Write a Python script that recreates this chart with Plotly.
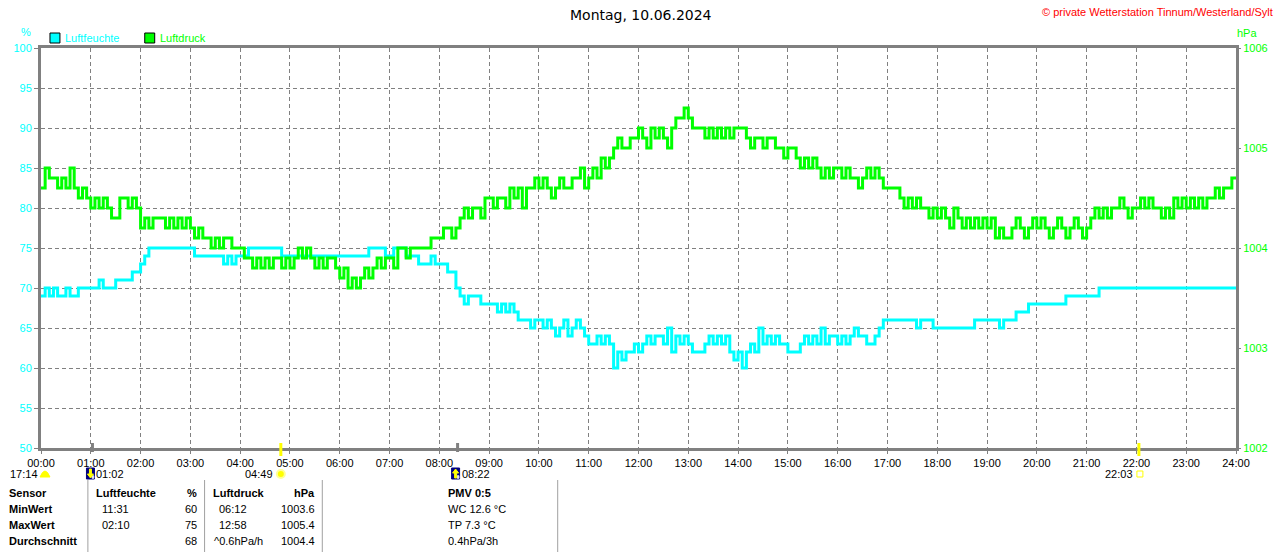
import plotly.graph_objs as go

# Messwerte alle 5 Minuten, eine Zeile = eine Stunde (00:00 ... 23:55, dazu 24:00)
luftfeuchte = [
    69, 70, 69, 70, 69, 69, 70, 69, 69, 70, 70, 70,
    70, 70, 71, 70, 70, 70, 71, 71, 71, 71, 72, 72,
    73, 74, 75, 75, 75, 75, 75, 75, 75, 75, 75, 75,
    75, 74, 74, 74, 74, 74, 74, 74, 73, 74, 73, 74,
    74, 74, 75, 75, 75, 75, 75, 75, 75, 75, 74, 74,
    74, 74, 74, 74, 74, 74, 74, 74, 74, 74, 74, 74,
    74, 74, 74, 74, 74, 74, 74, 75, 75, 75, 75, 74,
    74, 75, 75, 75, 74, 74, 74, 73, 73, 73, 74, 73,
    73, 73, 72, 72, 70, 69, 68, 69, 69, 69, 68, 68,
    68, 68, 67, 68, 67, 68, 67, 66, 66, 66, 65, 66,
    66, 65, 66, 65, 64, 65, 66, 64, 65, 66, 65, 64,
    63, 63, 64, 63, 64, 63, 60, 62, 61, 62, 62, 63,
    62, 63, 64, 63, 64, 64, 63, 65, 62, 64, 63, 64,
    63, 62, 62, 62, 63, 64, 63, 64, 63, 64, 62, 61,
    62, 60, 62, 63, 62, 65, 63, 64, 63, 64, 63, 63,
    62, 62, 62, 63, 64, 63, 64, 63, 65, 63, 64, 64,
    63, 64, 63, 64, 65, 64, 64, 63, 63, 64, 65, 66,
    66, 66, 66, 66, 66, 66, 66, 65, 66, 66, 66, 65,
    65, 65, 65, 65, 65, 65, 65, 65, 65, 66, 66, 66,
    66, 66, 66, 65, 66, 66, 66, 67, 67, 67, 68, 68,
    68, 68, 68, 68, 68, 68, 68, 69, 69, 69, 69, 69,
    69, 69, 69, 70, 70, 70, 70, 70, 70, 70, 70, 70,
    70, 70, 70, 70, 70, 70, 70, 70, 70, 70, 70, 70,
    70, 70, 70, 70, 70, 70, 70, 70, 70, 70, 70, 70,
    70,
]

luftdruck = [
    1004.6, 1004.8, 1004.7, 1004.7, 1004.6, 1004.7, 1004.6, 1004.8, 1004.6, 1004.5, 1004.6, 1004.5,
    1004.4, 1004.5, 1004.4, 1004.5, 1004.4, 1004.3, 1004.3, 1004.5, 1004.5, 1004.4, 1004.5, 1004.4,
    1004.2, 1004.3, 1004.2, 1004.3, 1004.3, 1004.3, 1004.2, 1004.3, 1004.2, 1004.3, 1004.2, 1004.3,
    1004.2, 1004.1, 1004.2, 1004.1, 1004.1, 1004.0, 1004.1, 1004.0, 1004.1, 1004.1, 1004.0, 1004.0,
    1004.0, 1003.9, 1003.9, 1003.8, 1003.9, 1003.8, 1003.9, 1003.8, 1003.9, 1003.9, 1003.8, 1003.9,
    1003.8, 1003.9, 1004.0, 1003.9, 1004.0, 1003.9, 1003.8, 1003.9, 1003.8, 1003.9, 1003.9, 1003.8,
    1003.7, 1003.8, 1003.6, 1003.7, 1003.6, 1003.7, 1003.8, 1003.7, 1003.8, 1003.9, 1003.8, 1003.9,
    1003.9, 1003.8, 1004.0, 1004.0, 1003.9, 1004.0, 1004.0, 1004.0, 1004.0, 1004.0, 1004.1, 1004.1,
    1004.1, 1004.2, 1004.2, 1004.1, 1004.2, 1004.3, 1004.4, 1004.3, 1004.4, 1004.4, 1004.3, 1004.5,
    1004.5, 1004.4, 1004.5, 1004.5, 1004.4, 1004.6, 1004.5, 1004.6, 1004.4, 1004.6, 1004.6, 1004.7,
    1004.6, 1004.7, 1004.6, 1004.5, 1004.6, 1004.7, 1004.6, 1004.6, 1004.7, 1004.7, 1004.8, 1004.6,
    1004.7, 1004.8, 1004.7, 1004.9, 1004.8, 1004.9, 1005.0, 1005.1, 1005.0, 1005.0, 1005.1, 1005.1,
    1005.2, 1005.1, 1005.0, 1005.2, 1005.1, 1005.2, 1005.1, 1005.0, 1005.2, 1005.3, 1005.3, 1005.4,
    1005.3, 1005.2, 1005.2, 1005.2, 1005.1, 1005.2, 1005.1, 1005.2, 1005.1, 1005.2, 1005.1, 1005.2,
    1005.2, 1005.2, 1005.1, 1005.0, 1005.1, 1005.1, 1005.0, 1005.1, 1005.1, 1005.0, 1005.0, 1004.9,
    1005.0, 1005.0, 1004.9, 1004.8, 1004.9, 1004.8, 1004.9, 1004.8, 1004.7, 1004.8, 1004.7, 1004.8,
    1004.8, 1004.7, 1004.8, 1004.7, 1004.7, 1004.6, 1004.7, 1004.8, 1004.7, 1004.8, 1004.7, 1004.6,
    1004.6, 1004.6, 1004.6, 1004.5, 1004.4, 1004.5, 1004.4, 1004.5, 1004.4, 1004.4, 1004.3, 1004.4,
    1004.3, 1004.4, 1004.3, 1004.2, 1004.4, 1004.3, 1004.2, 1004.3, 1004.2, 1004.3, 1004.2, 1004.3,
    1004.2, 1004.3, 1004.1, 1004.2, 1004.1, 1004.1, 1004.2, 1004.3, 1004.2, 1004.1, 1004.2, 1004.3,
    1004.2, 1004.3, 1004.2, 1004.1, 1004.2, 1004.3, 1004.2, 1004.1, 1004.2, 1004.3, 1004.2, 1004.1,
    1004.2, 1004.3, 1004.4, 1004.3, 1004.4, 1004.3, 1004.4, 1004.4, 1004.5, 1004.4, 1004.3, 1004.4,
    1004.4, 1004.5, 1004.4, 1004.5, 1004.4, 1004.4, 1004.3, 1004.4, 1004.3, 1004.5, 1004.4, 1004.5,
    1004.4, 1004.5, 1004.4, 1004.5, 1004.4, 1004.5, 1004.5, 1004.6, 1004.5, 1004.6, 1004.6, 1004.7,
    1004.7,
]

stunden_text = [
    "00:00", "01:00", "02:00", "03:00", "04:00", "05:00", "06:00", "07:00", "08:00",
    "09:00", "10:00", "11:00", "12:00", "13:00", "14:00", "15:00", "16:00", "17:00",
    "18:00", "19:00", "20:00", "21:00", "22:00", "23:00", "24:00",
]
feuchte_ticks = [50, 55, 60, 65, 70, 75, 80, 85, 90, 95, 100]
druck_ticks = [1002, 1003, 1004, 1005, 1006]

# Mond/Sonne auf- und untergang
ereignis_text = ["01:02", "04:49", "08:22", "22:03"]
ereignis_stunde = [1 + 2 / 60, 4 + 49 / 60, 8 + 22 / 60, 22 + 3 / 60]
ereignis_art = ["mond_ab", "sonne_auf", "mond_auf", "sonne_ab"]

# Tabelle unten
zeilen = ["MinWert", "MaxWert", "Durchschnitt"]
feuchte_zeit = ["11:31", "02:10", ""]
feuchte_wert = ["60", "75", "68"]
druck_zeit = ["06:12", "12:58", "^0.6hPa/h"]
druck_wert = ["1003.6", "1005.4", "1004.4"]
pmv_text = ["WC 12.6 °C", "TP 7.3 °C", "0.4hPa/3h"]

FONT = "Liberation Sans"
GRAU = "#808080"
CYAN = "#00ffff"
GRUEN = "#00ff00"
GELB = "#ffff00"
L, R, T, B = 41, 1239, 48, 448

def px_x(p):
    return (p - L) / (R - L)

def px_y(p):
    return (B - p) / (B - T)

def stunde_px(h):
    return L + h * (R - L) / 24

zeit = [m / 60 for m in range(0, 24 * 60 + 1, 5)]

fig = go.Figure()
fig.add_trace(
    go.Scatter(
        x = zeit,
        y = luftfeuchte,
        name = "Luftfeuchte",
        mode = "lines",
        line = dict(color = CYAN, width = 3, shape = "hv")
    )
)
fig.add_trace(
    go.Scatter(
        x = zeit,
        y = luftdruck,
        name = "Luftdruck",
        yaxis = "y2",
        mode = "lines",
        line = dict(color = GRUEN, width = 3, shape = "hv")
    )
)

notizen = list()
formen = list()

def text(t, x, y, anchor = "left", color = "black", size = 11, bold = False, family = FONT):
    if bold:
        t = "<b>" + t + "</b>"
    notizen.append(
        dict(
            text = t, x = px_x(x), y = px_y(y),
            xref = "paper", yref = "paper",
            xanchor = anchor, yanchor = "middle",
            showarrow = False, borderpad = 0,
            font = dict(family = family, size = size, color = color)
        )
    )

def rechteck(x0, y0, x1, y1, fill, line = "black", width = 1):
    formen.append(
        dict(
            type = "rect", xref = "paper", yref = "paper",
            x0 = px_x(x0), x1 = px_x(x1), y0 = px_y(y0), y1 = px_y(y1),
            fillcolor = fill, line = dict(color = line, width = width)
        )
    )

def pfad(punkte, fill):
    teile = ["{} {:.5f} {:.5f}".format("M" if i == 0 else "L", px_x(x), px_y(y)) for i, (x, y) in enumerate(punkte)]
    formen.append(
        dict(
            type = "path", xref = "paper", yref = "paper",
            path = " ".join(teile) + " Z",
            fillcolor = fill, line = dict(color = fill, width = 1)
        )
    )

text("Montag, 10.06.2024", 643, 15, anchor = "center", size = 14, family = "DejaVu Sans")
text("© private Wetterstation Tinnum/Westerland/Sylt", 1277, 12, anchor = "right", color = "#ff0000")
text("%", 26, 32, anchor = "center", color = CYAN)
text("hPa", 1250, 33, anchor = "center", color = GRUEN)

rechteck(50, 33, 60, 43, CYAN)
text("Luftfeuchte", 64, 38, color = CYAN)
rechteck(145, 33, 155, 43, GRUEN)
text("Luftdruck", 159, 38, color = GRUEN)

# Ereignisse auf der Zeitachse
text("17:14", 39, 474, anchor = "right")
formen.append(
    dict(
        type = "path", xref = "paper", yref = "paper",
        path = "M {} {} Q {} {} {} {} Z".format(
            px_x(40), px_y(477), px_x(45), px_y(465), px_x(50), px_y(477)
        ),
        fillcolor = GELB, line = dict(color = GELB, width = 1)
    )
)
for stunde, beschriftung, art in zip(ereignis_stunde, ereignis_text, ereignis_art):
    xp = stunde_px(stunde)
    farbe = GELB if art.startswith("sonne") else GRAU
    formen.append(
        dict(
            type = "line", xref = "x", yref = "paper",
            x0 = stunde, x1 = stunde, y0 = px_y(443), y1 = px_y(456 if farbe == GELB else 452),
            line = dict(color = farbe, width = 3)
        )
    )
    if art.startswith("mond"):
        m = xp - 2
        rechteck(m - 4, 468, m + 4, 479, "#000080", line = "#000080")
        formen.append(
            dict(
                type = "circle", xref = "paper", yref = "paper",
                x0 = px_x(m + 1), x1 = px_x(m + 4), y0 = px_y(475), y1 = px_y(479),
                fillcolor = "#e0e0f0", line = dict(width = 0)
            )
        )
        if art == "mond_auf":
            pfad([(m - 3, 473), (m, 469), (m + 3, 473), (m + 1, 473), (m + 1, 478), (m - 1, 478), (m - 1, 473)], GELB)
        else:
            pfad([(m - 3, 474), (m, 478), (m + 3, 474), (m + 1, 474), (m + 1, 469), (m - 1, 469), (m - 1, 474)], GELB)
        text(beschriftung, xp + 3, 474)
    elif art == "sonne_auf":
        formen.append(
            dict(
                type = "circle", xref = "paper", yref = "paper",
                x0 = px_x(xp - 4), x1 = px_x(xp + 4), y0 = px_y(470), y1 = px_y(478),
                fillcolor = GELB, line = dict(color = "#ffff99", width = 2)
            )
        )
        text(beschriftung, xp - 7, 474, anchor = "right")
    else:
        rechteck(xp - 2, 471, xp + 4, 477, "white", line = GELB)
        text(beschriftung, xp - 5, 474, anchor = "right")

# Tabelle
for xl in [88, 205, 323, 559]:
    formen.append(
        dict(
            type = "line", xref = "paper", yref = "paper",
            x0 = px_x(xl), x1 = px_x(xl), y0 = px_y(480), y1 = px_y(552),
            line = dict(color = "#a0a0a0", width = 1)
        )
    )
kopf_y = 493
text("Sensor", 8, kopf_y, bold = True)
text("Luftfeuchte", 95, kopf_y, bold = True)
text("%", 198, kopf_y, anchor = "right", bold = True)
text("Luftdruck", 212, kopf_y, bold = True)
text("hPa", 317, kopf_y, anchor = "right", bold = True)
text("PMV 0:5", 448, kopf_y, bold = True)
for i, zeile in enumerate(zeilen):
    y = kopf_y + 16 * (i + 1)
    text(zeile, 8, y, bold = True)
    text(feuchte_zeit[i], 101, y)
    text(feuchte_wert[i], 198, y, anchor = "right")
    text(druck_zeit[i], 213 if druck_zeit[i].startswith("^") else 218, y)
    text(druck_wert[i], 317, y, anchor = "right")
    text(pmv_text[i], 448, y)

achse = dict(
    showline = True, linecolor = GRAU, linewidth = 3, mirror = True,
    ticks = "outside", ticklen = 4, tickcolor = GRAU, tickwidth = 1,
    showgrid = True, gridcolor = GRAU, gridwidth = 1, griddash = "4px,3px",
    zeroline = False, fixedrange = True
)

fig.update_layout(
    width = 1280,
    height = 552,
    margin = dict(l = L, r = 1280 - R, t = T, b = 552 - B, pad = 0),
    paper_bgcolor = "white",
    plot_bgcolor = "white",
    showlegend = False,
    font = dict(family = FONT, size = 11, color = "black"),
    xaxis = dict(
        achse,
        range = [0, 24],
        tickvals = list(range(25)),
        ticktext = stunden_text,
        ticklen = 3,
        tickfont = dict(family = FONT, size = 11, color = "black")
    ),
    yaxis = dict(
        achse,
        range = [50, 100],
        tickvals = feuchte_ticks,
        tickfont = dict(family = FONT, size = 11, color = CYAN)
    ),
    yaxis2 = dict(
        range = [1002, 1006],
        overlaying = "y",
        side = "right",
        tickvals = druck_ticks,
        ticks = "outside", ticklen = 4, tickcolor = GRAU,
        showgrid = False, zeroline = False, showline = False, fixedrange = True,
        tickfont = dict(family = FONT, size = 11, color = GRUEN)
    ),
    annotations = notizen,
    shapes = formen
)

fig.write_html(
    "out.html",
    config = dict(displayModeBar = False),
    post_script = "document.body.style.margin = '0';"
)
